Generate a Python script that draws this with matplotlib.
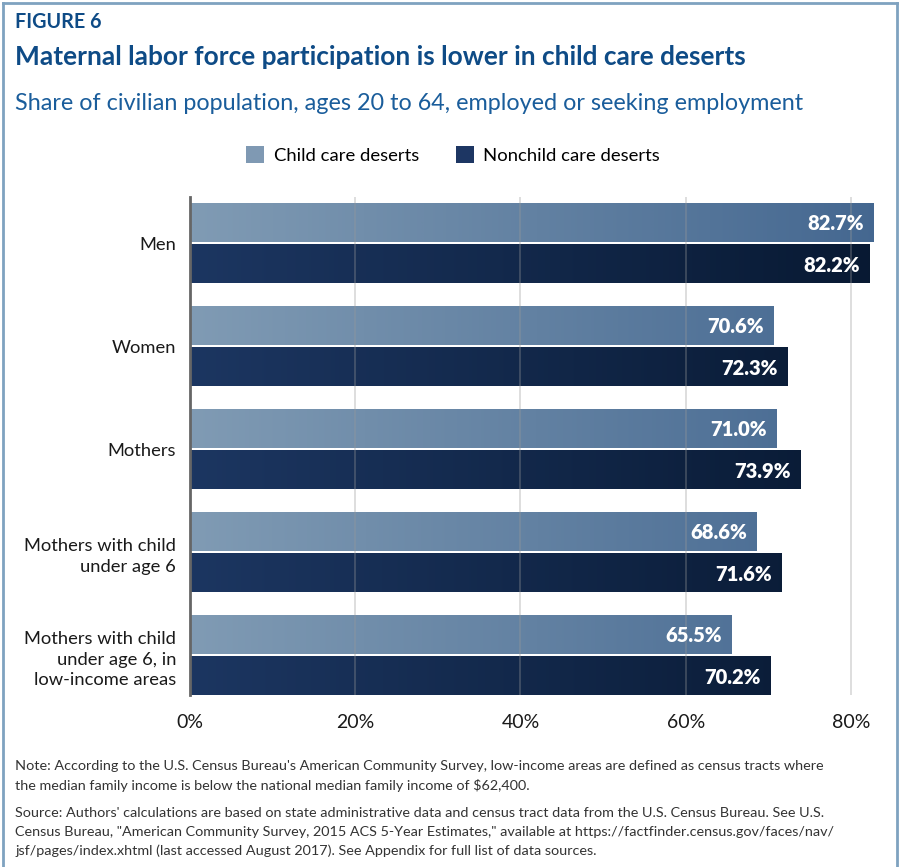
import numpy as np
import matplotlib
matplotlib.use("Agg")
import matplotlib.pyplot as plt
from matplotlib.patches import Patch
from matplotlib.colors import LinearSegmentedColormap
from matplotlib.lines import Line2D

categories = ["Men", "Women", "Mothers", "Mothers with child\nunder age 6",
              "Mothers with child\nunder age 6, in\nlow-income areas"]
deserts = [82.7, 70.6, 71.0, 68.6, 65.5]
nondeserts = [82.2, 72.3, 73.9, 71.6, 70.2]
series_names = ["Child care deserts", "Nonchild care deserts"]
xticks = [0, 20, 40, 60, 80]
xticklabels = ["0%", "20%", "40%", "60%", "80%"]

W, H = 899, 867
fig = plt.figure(figsize=(W / 100, H / 100), dpi=100)
plt.rcParams['font.family'] = ['Lato', 'DejaVu Sans']

XMAX = 84.0
ax_left, ax_right = 190, 190 + XMAX * 8.2625
ax_top, ax_bottom = 197, 695
ax = fig.add_axes([ax_left / W, 1 - ax_bottom / H, (ax_right - ax_left) / W, (ax_bottom - ax_top) / H])

light_cmap = LinearSegmentedColormap.from_list("l", ["#809BB4", "#446790"])
dark_cmap = LinearSegmentedColormap.from_list("d", ["#1C3661", "#081932"])

off, hgt = 0.2, 0.375
for i, (a, b) in enumerate(zip(deserts, nondeserts)):
    for v, yc, cm in ((a, i - off, light_cmap), (b, i + off, dark_cmap)):
        grad = cm(np.linspace(0, v / XMAX, 256))[None, :, :]
        ax.imshow(grad, extent=[0, v, yc + hgt / 2, yc - hgt / 2], aspect='auto', zorder=1,
                  interpolation='bilinear')
        ax.text(v - 1.15, yc + 0.01, f"{v:.1f}%", ha='right', va='center', color='white',
                fontsize=14.5, fontweight='heavy', zorder=4)

ax.set_xlim(0, XMAX)
ax.set_ylim(4.383, -0.451)
ax.set_xticks(xticks)
ax.set_xticklabels(xticklabels, fontsize=14, color='#1a1a1a')
ax.set_yticks(range(len(categories)))
ax.set_yticklabels(categories, fontsize=13.2, color='#1a1a1a', linespacing=1.38)
ax.tick_params(axis='both', length=0)
ax.tick_params(axis='x', pad=14)
ax.tick_params(axis='y', pad=10)
for x in xticks[1:]:
    ax.axvline(x, color='#999999', alpha=0.35, lw=1.3, zorder=3)
for s in ['top', 'right', 'bottom']:
    ax.spines[s].set_visible(False)
ax.spines['left'].set_color('#666666')
ax.spines['left'].set_linewidth(2)
ax.spines['left'].set_zorder(5)

fig.text(15 / W, 1 - 22 / H, "FIGURE 6", fontsize=14.2, fontweight='bold', color='#0E4B86', va='center')
fig.text(15 / W, 1 - 57 / H, "Maternal labor force participation is lower in child care deserts",
         fontsize=18.9, fontweight='bold', color='#0E4B86', va='center')
fig.text(15 / W, 1 - 103 / H, "Share of civilian population, ages 20 to 64, employed or seeking employment",
         fontsize=16.8, color='#1A5D9B', va='center')

handles = [Patch(facecolor="#7F99B3"), Patch(facecolor="#1D3663")]
fig.legend(handles, series_names, loc='center', bbox_to_anchor=(453 / W, 1 - 155 / H), ncol=2,
           frameon=False, fontsize=13.3, handlelength=1.0, handleheight=1.0, handletextpad=0.5,
           columnspacing=2.0)

notefam = ['Lato', 'DejaVu Sans']
note_lines = ["Note: According to the U.S. Census Bureau's American Community Survey, low-income areas are defined as census tracts where",
              "the median family income is below the national median family income of $62,400."]
source_lines = ["Source: Authors' calculations are based on state administrative data and census tract data from the U.S. Census Bureau. See U.S.",
                "Census Bureau, \"American Community Survey, 2015 ACS 5-Year Estimates,\" available at https://factfinder.census.gov/faces/nav/",
                "jsf/pages/index.xhtml (last accessed August 2017). See Appendix for full list of data sources."]
for k, line in enumerate(note_lines):
    fig.text(15 / W, 1 - (766 + 19 * k) / H, line, fontsize=10.4, color='#333333', va='center', family=notefam)
for k, line in enumerate(source_lines):
    fig.text(15 / W, 1 - (813 + 19 * k) / H, line, fontsize=10.4, color='#333333', va='center', family=notefam)

bc = '#7FA2C0'
fig.add_artist(Line2D([2.5 / W, 2.5 / W], [0, 1 - 2.5 / H], color=bc, lw=2, transform=fig.transFigure))
fig.add_artist(Line2D([2.5 / W, 1 - 2.5 / W], [1 - 2.5 / H, 1 - 2.5 / H], color=bc, lw=2, transform=fig.transFigure))
fig.add_artist(Line2D([1 - 2.5 / W, 1 - 2.5 / W], [0, 1 - 2.5 / H], color=bc, lw=2, transform=fig.transFigure))

fig.savefig("out.png", dpi=100)
